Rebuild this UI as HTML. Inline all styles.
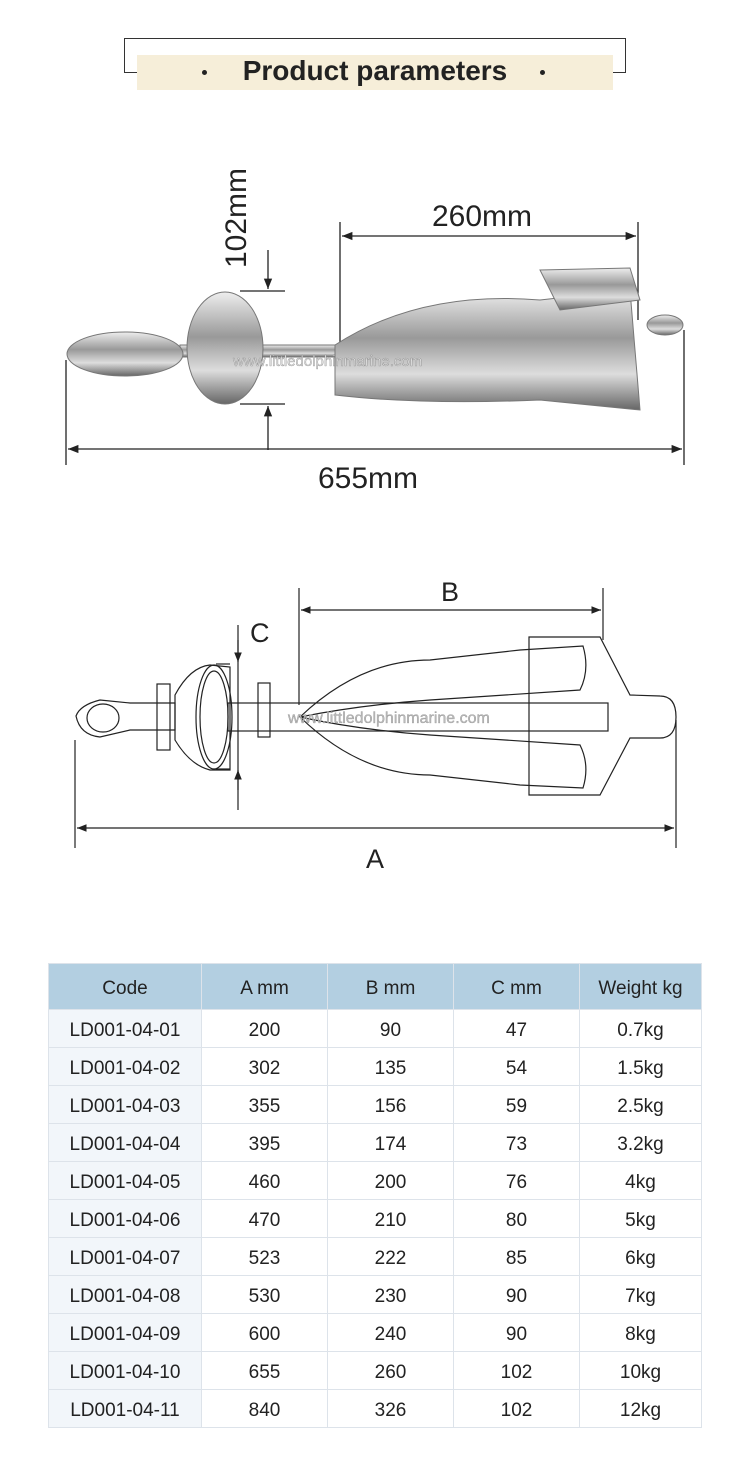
<!DOCTYPE html>
<html><head><meta charset="utf-8"><style>
body{margin:0;width:750px;height:1463px;background:#fff;position:relative;overflow:hidden;font-family:"Liberation Sans","DejaVu Sans",sans-serif}
.abs{position:absolute}
table{position:absolute;left:48px;top:963px;border-collapse:collapse;width:654px}
td,th{border:1px solid #dde3ea;text-align:center;font-size:19px;color:#222;font-weight:normal;height:37px;padding:0}
td span,th span{position:relative;top:2px}
th{background:#b3cfe1;height:45px;font-size:19px}
td:first-child{background:#f2f6fa}
</style></head><body>
<div class="abs" style="left:124px;top:38px;width:500px;height:33px;border:1px solid #333"></div>
<div class="abs" style="left:137px;top:55px;width:476px;height:35px;background:#f6eed9"></div>
<div class="abs" style="left:137px;top:55px;width:476px;text-align:center;font-size:28px;font-weight:bold;color:#222">Product parameters</div>
<div class="abs" style="left:202px;top:70px;width:5px;height:5px;border-radius:50%;background:#222"></div>
<div class="abs" style="left:540px;top:70px;width:5px;height:5px;border-radius:50%;background:#222"></div>

<svg class="abs" style="left:0;top:0" width="750" height="940">
<defs>
<linearGradient id="m" x1="0" y1="0" x2="0" y2="1"><stop offset="0" stop-color="#eee"/><stop offset=".4" stop-color="#999"/><stop offset=".7" stop-color="#ddd"/><stop offset="1" stop-color="#666"/></linearGradient>
<marker id="a" viewBox="0 0 10 10" refX="10" refY="5" markerWidth="8" markerHeight="8" orient="auto-start-reverse"><path d="M0 1L10 5L0 9z" fill="#222"/></marker>
</defs>
<g stroke="#222" stroke-width="1.3" fill="none">
<line x1="340" y1="222" x2="340" y2="345"/><line x1="638" y1="222" x2="638" y2="320"/>
<line x1="342" y1="236" x2="636" y2="236" marker-start="url(#a)" marker-end="url(#a)"/>
<line x1="240" y1="291" x2="285" y2="291"/><line x1="240" y1="404" x2="285" y2="404"/>
<line x1="268" y1="250" x2="268" y2="289" marker-end="url(#a)"/><line x1="268" y1="450" x2="268" y2="406" marker-end="url(#a)"/>
<line x1="66" y1="360" x2="66" y2="465"/><line x1="684" y1="330" x2="684" y2="465"/>
<line x1="68" y1="449" x2="682" y2="449" marker-start="url(#a)" marker-end="url(#a)"/>
</g>
<g stroke="#777" stroke-width="1">
<rect x="180" y="345" width="440" height="12" fill="url(#m)"/>
<ellipse cx="125" cy="354" rx="58" ry="22" fill="url(#m)"/>
<ellipse cx="225" cy="348" rx="38" ry="56" fill="url(#m)"/>
<path d="M335 345 Q420 290 540 300 L630 290 L640 410 L540 400 Q420 405 335 395 Z" fill="url(#m)"/>
<path d="M540 270 L630 268 L640 300 L560 310Z" fill="url(#m)"/>
<ellipse cx="665" cy="325" rx="18" ry="10" fill="url(#m)"/>
</g>
<g font-size="30" fill="#222" font-family="Liberation Sans,sans-serif">
<text x="432" y="226">260mm</text>
<text x="318" y="488">655mm</text>
<text transform="translate(246,268) rotate(-90)">102mm</text>
</g>
<g stroke="#222" stroke-width="1.2" fill="none">
<line x1="299" y1="588" x2="299" y2="705"/><line x1="603" y1="588" x2="603" y2="640"/>
<line x1="301" y1="610" x2="601" y2="610" marker-start="url(#a)" marker-end="url(#a)"/>
<line x1="238" y1="625" x2="238" y2="810"/>
<line x1="238" y1="640" x2="238" y2="662" marker-end="url(#a)"/><line x1="238" y1="790" x2="238" y2="770" marker-end="url(#a)"/>
<line x1="230" y1="664" x2="216" y2="664"/><line x1="230" y1="769" x2="216" y2="769"/>
<line x1="75" y1="740" x2="75" y2="848"/><line x1="676" y1="720" x2="676" y2="848"/>
<line x1="77" y1="828" x2="674" y2="828" marker-start="url(#a)" marker-end="url(#a)"/>
<path d="M100 700 Q80 705 76 716 Q80 735 100 737 L130 730 L175 730 L175 703 L130 703 Z"/>
<ellipse cx="103" cy="718" rx="16" ry="14"/>
<rect x="157" y="684" width="13" height="66"/>
<path d="M175 695 Q190 667 210 665 L230 667 L230 770 L210 770 Q190 765 175 740 Z"/>
<ellipse cx="214" cy="717" rx="18" ry="52"/><ellipse cx="214" cy="717" rx="14" ry="46"/>
<rect x="228" y="703" width="380" height="28"/>
<rect x="258" y="683" width="12" height="54"/>
<path d="M300 717 Q360 660 430 660 L520 650 L583 646 Q590 670 580 690 L430 700 Q360 705 300 717 Q360 775 430 775 L520 785 L583 788 Q590 765 580 745 L430 735 Q360 730 300 717"/>
<path d="M529 637 L600 637 L630 695 L660 696 Q676 696 676 717 Q676 738 660 738 L630 738 L600 795 L529 795 Z"/>
</g>
<text x="288" y="723" font-size="16" fill="#bbb" stroke="#888" stroke-width=".3">www.littledolphinmarine.com</text>
<text x="233" y="366" font-size="15" fill="#ddd" stroke="#777" stroke-width=".3">www.littledolphinmarine.com</text>
<g font-size="27" fill="#222"><text x="441" y="601">B</text><text x="250" y="642">C</text><text x="366" y="868">A</text></g>
</svg>

<table>
<tr><th style="width:152px"><span>Code</span></th><th style="width:125px"><span>A mm</span></th><th style="width:125px"><span>B mm</span></th><th style="width:125px"><span>C mm</span></th><th><span>Weight kg</span></th></tr>
<tr><td><span>LD001-04-01</span></td><td><span>200</span></td><td><span>90</span></td><td><span>47</span></td><td><span>0.7kg</span></td></tr>
<tr><td><span>LD001-04-02</span></td><td><span>302</span></td><td><span>135</span></td><td><span>54</span></td><td><span>1.5kg</span></td></tr>
<tr><td><span>LD001-04-03</span></td><td><span>355</span></td><td><span>156</span></td><td><span>59</span></td><td><span>2.5kg</span></td></tr>
<tr><td><span>LD001-04-04</span></td><td><span>395</span></td><td><span>174</span></td><td><span>73</span></td><td><span>3.2kg</span></td></tr>
<tr><td><span>LD001-04-05</span></td><td><span>460</span></td><td><span>200</span></td><td><span>76</span></td><td><span>4kg</span></td></tr>
<tr><td><span>LD001-04-06</span></td><td><span>470</span></td><td><span>210</span></td><td><span>80</span></td><td><span>5kg</span></td></tr>
<tr><td><span>LD001-04-07</span></td><td><span>523</span></td><td><span>222</span></td><td><span>85</span></td><td><span>6kg</span></td></tr>
<tr><td><span>LD001-04-08</span></td><td><span>530</span></td><td><span>230</span></td><td><span>90</span></td><td><span>7kg</span></td></tr>
<tr><td><span>LD001-04-09</span></td><td><span>600</span></td><td><span>240</span></td><td><span>90</span></td><td><span>8kg</span></td></tr>
<tr><td><span>LD001-04-10</span></td><td><span>655</span></td><td><span>260</span></td><td><span>102</span></td><td><span>10kg</span></td></tr>
<tr><td><span>LD001-04-11</span></td><td><span>840</span></td><td><span>326</span></td><td><span>102</span></td><td><span>12kg</span></td></tr>
</table>
</body></html>
